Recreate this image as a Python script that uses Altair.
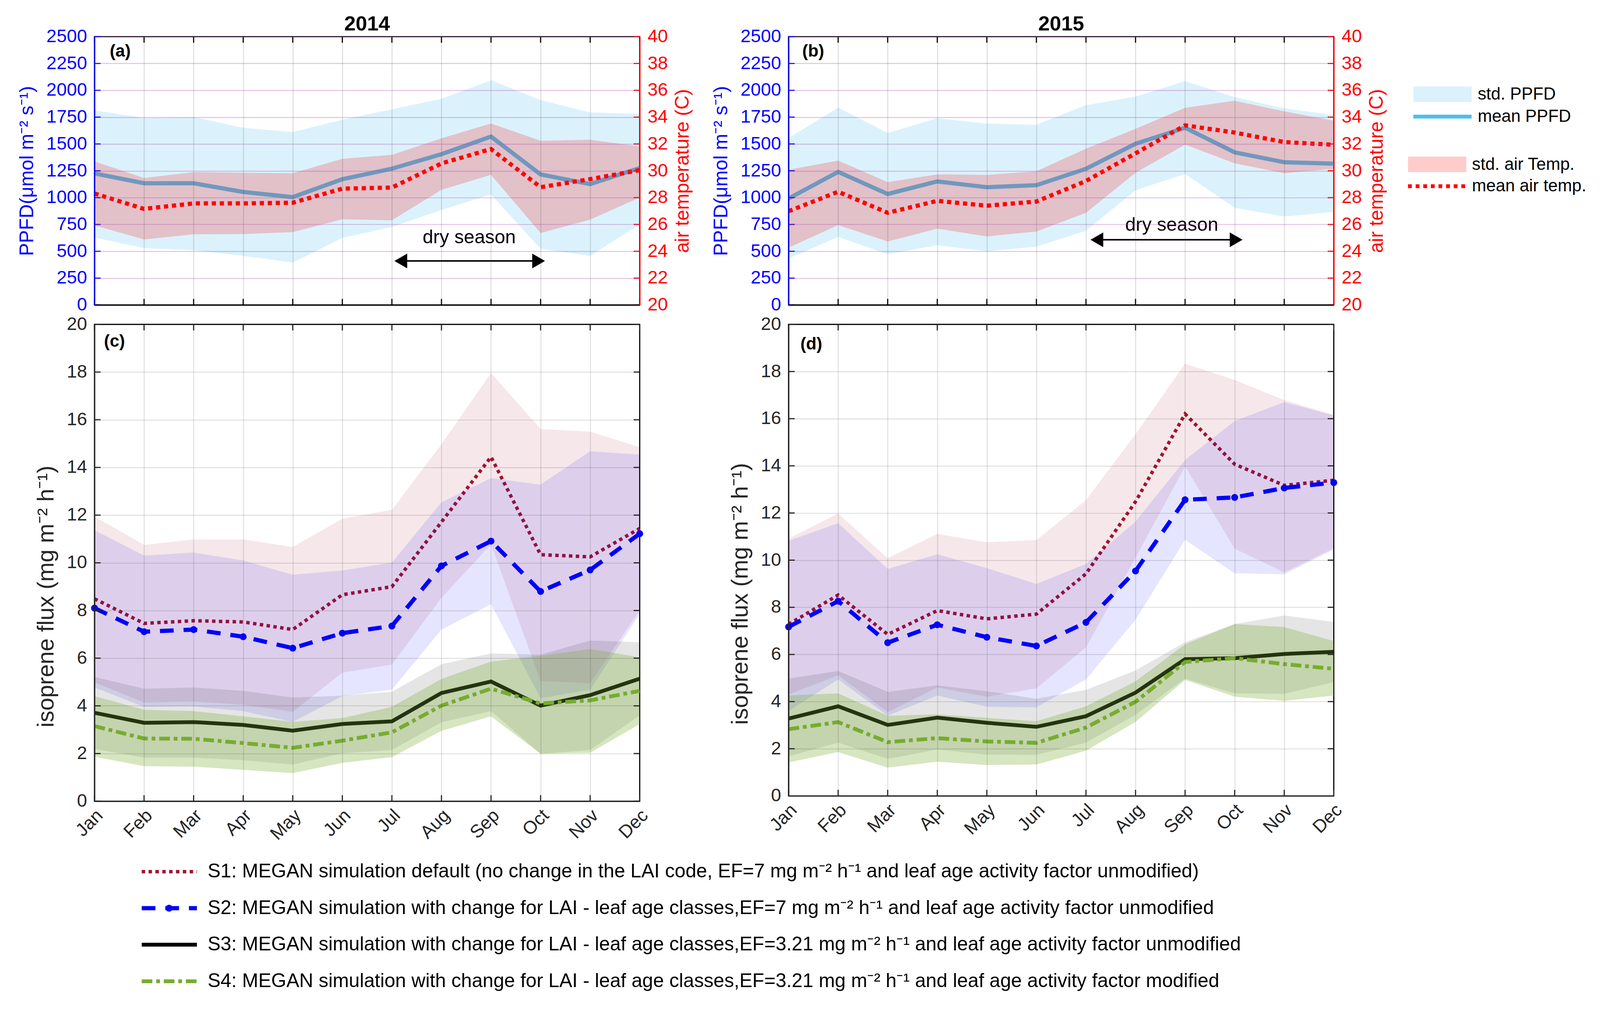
import altair as alt
import pandas as pd

months = ["Jan", "Feb", "Mar", "Apr", "May", "Jun", "Jul", "Aug", "Sep", "Oct", "Nov", "Dec"]
month_idx = list(range(1, 13))

# tick values
ppfd_ticks = list(range(0, 2501, 250))
temp_ticks = list(range(20, 41, 2))
flux_ticks = list(range(0, 21, 2))

# ---- (a) 2014 PPFD and air temperature ----
ppfd_mean_2014 = [1226, 1134, 1134, 1053, 1005, 1172, 1270, 1405, 1569, 1216, 1126, 1276]
ppfd_hi_2014 = [1813, 1742, 1751, 1651, 1611, 1726, 1823, 1921, 2094, 1909, 1794, 1780]
ppfd_lo_2014 = [629, 529, 510, 458, 395, 625, 727, 885, 1030, 523, 458, 750]
temp_mean_2014 = [28.31, 27.16, 27.57, 27.57, 27.62, 28.67, 28.75, 30.55, 31.62, 28.78, 29.38, 30.05]
temp_hi_2014 = [30.70, 29.47, 29.90, 29.85, 29.82, 30.89, 31.19, 32.42, 33.53, 32.24, 32.32, 31.82]
temp_lo_2014 = [25.93, 24.88, 25.27, 25.28, 25.43, 26.39, 26.31, 28.58, 29.70, 25.36, 26.36, 28.01]

# ---- (b) 2015 PPFD and air temperature ----
ppfd_mean_2015 = [992, 1240, 1034, 1151, 1097, 1116, 1269, 1502, 1651, 1422, 1330, 1317]
ppfd_hi_2015 = [1555, 1838, 1603, 1740, 1689, 1679, 1861, 1941, 2086, 1937, 1832, 1769]
ppfd_lo_2015 = [433, 634, 473, 557, 500, 544, 691, 1069, 1221, 906, 824, 868]
temp_mean_2015 = [26.99, 28.44, 26.87, 27.76, 27.40, 27.71, 29.24, 31.30, 33.39, 32.85, 32.14, 31.94]
temp_hi_2015 = [30.08, 30.76, 29.16, 29.74, 29.69, 29.97, 31.65, 33.13, 34.70, 35.22, 34.43, 33.74]
temp_lo_2015 = [24.27, 25.95, 24.73, 25.68, 25.11, 25.47, 26.87, 29.85, 31.95, 30.56, 29.82, 30.15]

# ---- (c) 2014 isoprene flux ----
s1_2014 = [8.49, 7.46, 7.57, 7.52, 7.20, 8.66, 9.00, 11.71, 14.44, 10.34, 10.25, 11.44]
s2_2014 = [8.10, 7.11, 7.20, 6.90, 6.42, 7.05, 7.35, 9.87, 10.91, 8.80, 9.70, 11.22]
s3_2014 = [3.71, 3.29, 3.32, 3.20, 2.96, 3.24, 3.35, 4.54, 5.02, 4.01, 4.45, 5.14]
s4_2014 = [3.15, 2.63, 2.62, 2.44, 2.24, 2.54, 2.89, 4.01, 4.72, 4.10, 4.23, 4.63]
s1_hi_2014 = [11.94, 10.75, 10.98, 10.98, 10.66, 11.85, 12.22, 14.97, 17.96, 15.61, 15.50, 14.85]
s1_lo_2014 = [4.99, 4.14, 4.18, 4.05, 3.75, 5.39, 5.73, 8.53, 10.77, 5.04, 4.95, 8.00]
s2_hi_2014 = [11.37, 10.30, 10.43, 10.10, 9.50, 9.68, 10.01, 12.54, 13.55, 13.28, 14.68, 14.54]
s2_lo_2014 = [4.77, 3.96, 3.98, 3.78, 3.33, 4.41, 4.68, 7.20, 8.26, 4.32, 4.68, 7.85]
s3_hi_2014 = [5.21, 4.72, 4.77, 4.63, 4.35, 4.43, 4.59, 5.75, 6.20, 6.15, 6.74, 6.67]
s3_lo_2014 = [2.19, 1.83, 1.83, 1.72, 1.54, 2.01, 2.15, 3.31, 3.78, 1.99, 2.15, 3.60]
s4_hi_2014 = [4.41, 3.83, 3.78, 3.56, 3.33, 3.49, 3.96, 5.13, 5.86, 6.10, 6.38, 6.04]
s4_lo_2014 = [1.87, 1.47, 1.45, 1.32, 1.18, 1.61, 1.85, 2.95, 3.56, 1.99, 2.03, 3.24]

# ---- (d) 2015 isoprene flux ----
s1_2015 = [7.28, 8.52, 6.85, 7.86, 7.51, 7.71, 9.42, 12.48, 16.20, 14.07, 13.17, 13.39]
s2_2015 = [7.17, 8.26, 6.50, 7.26, 6.73, 6.36, 7.36, 9.54, 12.56, 12.66, 13.06, 13.29]
s3_2015 = [3.28, 3.80, 3.01, 3.32, 3.10, 2.93, 3.38, 4.38, 5.80, 5.84, 6.02, 6.11]
s4_2015 = [2.83, 3.13, 2.28, 2.45, 2.31, 2.25, 2.90, 3.99, 5.68, 5.84, 5.59, 5.39]
s1_hi_2015 = [10.91, 11.98, 10.08, 11.11, 10.76, 10.85, 12.54, 15.34, 18.33, 17.64, 16.79, 16.16]
s1_lo_2015 = [4.30, 5.12, 3.55, 4.60, 4.21, 4.56, 6.30, 10.10, 13.98, 10.49, 9.48, 10.50]
s2_hi_2015 = [10.82, 11.57, 9.63, 10.25, 9.66, 8.99, 9.84, 11.64, 14.25, 15.90, 16.70, 16.14]
s2_lo_2015 = [3.60, 4.94, 3.40, 4.26, 3.78, 3.76, 4.94, 7.47, 10.86, 9.44, 9.40, 10.45]
s3_hi_2015 = [4.98, 5.30, 4.41, 4.69, 4.44, 4.12, 4.50, 5.32, 6.52, 7.29, 7.65, 7.38]
s3_lo_2015 = [1.68, 2.26, 1.57, 1.97, 1.75, 1.74, 2.26, 3.44, 4.98, 4.35, 4.33, 4.83]
s4_hi_2015 = [4.26, 4.35, 3.40, 3.46, 3.31, 3.17, 3.80, 4.86, 6.43, 7.29, 7.16, 6.57]
s4_lo_2015 = [1.42, 1.86, 1.20, 1.45, 1.31, 1.33, 1.92, 3.14, 4.92, 4.21, 4.03, 4.26]

# ---- text ----
panel_titles = ["2014", "2015"]
panel_tags = ["(a)", "(b)", "(c)", "(d)"]
top_legend_labels = ["std. PPFD", "mean PPFD", "std. air Temp.", "mean air temp."]
series_labels = [
    "S1: MEGAN simulation default (no change in the LAI code, EF=7 mg m\u207b\u00b2 h\u207b\u00b9 and leaf age activity factor unmodified)",
    "S2: MEGAN simulation with change for LAI - leaf age classes,EF=7 mg m\u207b\u00b2 h\u207b\u00b9 and leaf age activity factor unmodified",
    "S3: MEGAN simulation with change for LAI - leaf age classes,EF=3.21 mg m\u207b\u00b2 h\u207b\u00b9 and  leaf age activity factor unmodified",
    "S4: MEGAN simulation with change for LAI - leaf age classes,EF=3.21 mg m\u207b\u00b2 h\u207b\u00b9 and  leaf age activity factor modified",
]
dry_label = "dry season"
# dry-season arrow (month position start/end, air-temperature level), text position
dry_2014 = {"x1": 7.05, "x2": 10.09, "t": 23.28, "tx": 8.56, "tt": 25.02}
dry_2015 = {"x1": 7.09, "x2": 10.16, "t": 24.86, "tx": 8.73, "tt": 25.95}

FONT = "Liberation Sans"
W = 1432
H_TOP = 705
H_C = 1253
H_D = 1239
TICK = 16

C_PPFD = "#4DBEEE"
C_TEMP = "#FF0000"
C_S1 = "#A2142F"
C_S2 = "#0000FF"
C_S3 = "#000000"
C_S4 = "#77AC30"
C_AX = "#262626"
DASH_S1 = [9, 9]
DASH_S2 = [36, 26]
DASH_S4 = [28, 10, 10, 10]
DASH_T = [11, 10]

month_expr = "[" + ",".join("'%s'" % m for m in months) + "][datum.value - 1]"


def xscale():
    return alt.Scale(domain=[1, 12], nice=False, zero=False)


def tag_layer(tag, dx, dy):
    return alt.Chart(pd.DataFrame({"t": [tag]})).mark_text(
        fontSize=45, fontWeight="bold", align="left", baseline="middle", color="black"
    ).encode(text="t:N", x=alt.value(dx), y=alt.value(dy))


def xticks(h, color):
    d = pd.DataFrame({"m": month_idx})
    bot = alt.Chart(d).mark_rule(color=color, strokeWidth=3).encode(
        x="m:Q", y=alt.value(h), y2=alt.value(h - TICK))
    top = alt.Chart(d).mark_rule(color=color, strokeWidth=3).encode(
        x="m:Q", y=alt.value(0), y2=alt.value(TICK))
    return [bot, top]


def yticks(vals, color, side):
    d = pd.DataFrame({"v": vals})
    x0, x1 = (0, TICK) if side == "left" else (W - TICK, W)
    return alt.Chart(d).mark_rule(color=color, strokeWidth=3).encode(
        y="v:Q", x=alt.value(x0), x2=alt.value(x1))


def top_panel(title, pm, phi, plo, tm, thi, tlo, dry, tag, tag_dx, with_legend):
    df = pd.DataFrame({"m": month_idx, "pm": pm, "phi": phi, "plo": plo,
                       "tm": tm, "thi": thi, "tlo": tlo})
    base = alt.Chart(df)
    x_axis = alt.Axis(values=month_idx, labels=False, ticks=False, domain=True,
                      domainColor="black", domainWidth=3, grid=True, gridColor=C_AX,
                      gridOpacity=0.16, gridWidth=2.5, zindex=1, title=None)
    y_ppfd = alt.Y("plo:Q", scale=alt.Scale(domain=[0, 2500], nice=False, zero=False),
                   axis=alt.Axis(values=ppfd_ticks, format="d", labelColor="#0000FF",
                                 labelFontSize=48, labelPadding=20, ticks=False,
                                 domainColor="#0000FF", domainWidth=3, grid=True,
                                 gridColor="#B04CB0", gridOpacity=0.35, gridWidth=2.5, zindex=1,
                                 title="PPFD(\u03bcmol m\u207b\u00b2 s\u207b\u00b9)", titleColor="#0000FF",
                                 titleFontSize=51, titleFontWeight="normal", titleX=-176,
                                 titleY=H_TOP / 2, titleAngle=270, titleAlign="center",
                                 titleBaseline="middle"))
    band = base.mark_area(color=C_PPFD, opacity=0.2).encode(
        x=alt.X("m:Q", scale=xscale(), axis=x_axis), y=y_ppfd, y2="phi:Q")
    line = base.mark_line(color=C_PPFD, strokeWidth=11).encode(x="m:Q", y="pm:Q")
    ppfd_layer = alt.layer(band, line, yticks(ppfd_ticks, "#0000FF", "left"))

    y_temp = alt.Y("tlo:Q", scale=alt.Scale(domain=[20, 40], nice=False, zero=False),
                   axis=alt.Axis(orient="right", values=temp_ticks, format="d", labelColor="#FF0000",
                                 labelFontSize=48, labelPadding=20, ticks=False,
                                 domainColor="#FF0000", domainWidth=3, grid=False, zindex=1,
                                 title="air temperature (C)", titleColor="#FF0000",
                                 titleFontSize=51, titleFontWeight="normal", titleX=113,
                                 titleY=H_TOP / 2, titleAngle=270, titleAlign="center",
                                 titleBaseline="middle"))
    tband = base.mark_area(color=C_TEMP, opacity=0.2).encode(x="m:Q", y=y_temp, y2="thi:Q")
    tline = base.mark_line(color=C_TEMP, strokeWidth=11, strokeDash=DASH_T).encode(x="m:Q", y="tm:Q")

    off = 0.13
    arrow = alt.Chart(pd.DataFrame({"x1": [dry["x1"] + off * 0.7], "x2": [dry["x2"] - off * 0.7],
                                    "t": [dry["t"]]})).mark_rule(color="black", strokeWidth=4).encode(
        x="x1:Q", x2="x2:Q", y="t:Q")
    heads = alt.Chart(pd.DataFrame({"x": [dry["x1"] + off, dry["x2"] - off], "t": [dry["t"], dry["t"]],
                                    "d": ["l", "r"]})).mark_point(filled=True, color="black", opacity=1,
                                                                  size=1500).encode(
        x="x:Q", y="t:Q",
        shape=alt.Shape("d:N", scale=alt.Scale(domain=["l", "r"], range=["triangle-left", "triangle-right"]),
                        legend=None))
    dtext = alt.Chart(pd.DataFrame({"x": [dry["tx"]], "t": [dry["tt"]], "s": [dry_label]})).mark_text(
        fontSize=50, color="black", align="center", baseline="middle").encode(x="x:Q", y="t:Q", text="s:N")
    temp_layer = alt.layer(tband, tline, arrow, heads, dtext, yticks(temp_ticks, "#FF0000", "right"))

    layers = [ppfd_layer, temp_layer] + xticks(H_TOP, "black") + [tag_layer(tag, tag_dx, 38)]
    if with_legend:
        one = pd.DataFrame({"k": [0]})
        layers += [
            alt.Chart(one).mark_rect(color=C_PPFD, opacity=0.2).encode(
                x=alt.value(W + 209), x2=alt.value(W + 362), y=alt.value(131), y2=alt.value(172)),
            alt.Chart(one).mark_rule(color=C_PPFD, strokeWidth=10).encode(
                x=alt.value(W + 209), x2=alt.value(W + 362), y=alt.value(210)),
            alt.Chart(one).mark_rect(color=C_TEMP, opacity=0.2).encode(
                x=alt.value(W + 195), x2=alt.value(W + 348), y=alt.value(315), y2=alt.value(356)),
            alt.Chart(one).mark_rule(color=C_TEMP, strokeWidth=10, strokeDash=[10, 10]).encode(
                x=alt.value(W + 195), x2=alt.value(W + 345), y=alt.value(393)),
        ]
        txt_pos = [(W + 378, 151), (W + 378, 210), (W + 363, 336), (W + 363, 392)]
        for lab, (px, py) in zip(top_legend_labels, txt_pos):
            layers.append(alt.Chart(pd.DataFrame({"s": [lab]})).mark_text(
                fontSize=45, align="left", baseline="middle", color="black").encode(
                text="s:N", x=alt.value(px), y=alt.value(py)))

    return alt.layer(*layers).resolve_scale(y="independent").properties(
        width=W, height=H_TOP,
        title=alt.TitleParams(title, fontSize=54, fontWeight="bold", anchor="middle", offset=-19,
                              frame="group", color="black"))


def bottom_panel(h, series, tag, tag_dx, tag_dy, with_legend):
    (s1, s1hi, s1lo, s2, s2hi, s2lo, s3, s3hi, s3lo, s4, s4hi, s4lo) = series
    df = pd.DataFrame({"m": month_idx, "s1": s1, "s1hi": s1hi, "s1lo": s1lo,
                       "s2": s2, "s2hi": s2hi, "s2lo": s2lo, "s3": s3, "s3hi": s3hi, "s3lo": s3lo,
                       "s4": s4, "s4hi": s4hi, "s4lo": s4lo})
    base = alt.Chart(df)
    x_axis = alt.Axis(values=month_idx, labelExpr=month_expr, labelAngle=315, labelAlign="right",
                      labelBaseline="middle", labelFontSize=48, labelColor=C_AX, labelPadding=30,
                      labelOffset=14, ticks=False, domain=True, domainColor=C_AX, domainWidth=3,
                      grid=True, gridColor=C_AX, gridOpacity=0.15, gridWidth=2.5, zindex=1,
                      title=None)
    y_axis = alt.Axis(values=flux_ticks, format="d", labelFontSize=48, labelColor=C_AX,
                      labelPadding=20, ticks=False, domain=True, domainColor=C_AX, domainWidth=3,
                      grid=True, gridColor=C_AX, gridOpacity=0.15, gridWidth=2.5, zindex=1,
                      title="isoprene flux (mg m\u207b\u00b2 h\u207b\u00b9)", titleColor=C_AX,
                      titleFontSize=61, titleFontWeight="normal", titleX=-126, titleY=h / 2 + 88,
                      titleAngle=270, titleAlign="center", titleBaseline="middle")
    b1 = base.mark_area(color=C_S1, opacity=0.1).encode(
        x=alt.X("m:Q", scale=xscale(), axis=x_axis),
        y=alt.Y("s1lo:Q", scale=alt.Scale(domain=[0, 20], nice=False, zero=False), axis=y_axis),
        y2="s1hi:Q")
    l1 = base.mark_line(color=C_S1, strokeWidth=9, strokeDash=DASH_S1).encode(x="m:Q", y="s1:Q")
    b2 = base.mark_area(color=C_S2, opacity=0.1).encode(x="m:Q", y="s2lo:Q", y2="s2hi:Q")
    l2 = base.mark_line(color=C_S2, strokeWidth=11, strokeDash=DASH_S2,
                        point=alt.OverlayMarkDef(filled=True, color=C_S2, size=330, opacity=1)).encode(
        x="m:Q", y="s2:Q")
    b3 = base.mark_area(color=C_S3, opacity=0.1).encode(x="m:Q", y="s3lo:Q", y2="s3hi:Q")
    l3 = base.mark_line(color=C_S3, strokeWidth=10).encode(x="m:Q", y="s3:Q")
    b4 = base.mark_area(color=C_S4, opacity=0.3).encode(x="m:Q", y="s4lo:Q", y2="s4hi:Q")
    l4 = base.mark_line(color=C_S4, strokeWidth=10, strokeDash=DASH_S4).encode(x="m:Q", y="s4:Q")
    layers = [b1, l1, b2, l2, b3, l3, b4, l4] + xticks(h, C_AX) + [
        yticks(flux_ticks, C_AX, "left"), yticks(flux_ticks, C_AX, "right"), tag_layer(tag, tag_dx, tag_dy)]
    if with_legend:
        one = pd.DataFrame({"k": [0]})
        styles = [(C_S1, 9, DASH_S1), (C_S2, 11, DASH_S2), (C_S3, 10, None), (C_S4, 10, DASH_S4)]
        y0 = 1438
        for i, (lab, (col, sw, dash)) in enumerate(zip(series_labels, styles)):
            yy = y0 + 96 * i
            kw = dict(color=col, strokeWidth=sw)
            if dash:
                kw["strokeDash"] = dash
            layers.append(alt.Chart(one).mark_rule(**kw).encode(
                x=alt.value(124), x2=alt.value(269), y=alt.value(yy)))
            if i == 1:
                layers.append(alt.Chart(one).mark_point(filled=True, color=C_S2, size=330, opacity=1).encode(
                    x=alt.value(196), y=alt.value(yy)))
            layers.append(alt.Chart(pd.DataFrame({"s": [lab]})).mark_text(
                fontSize=51, align="left", baseline="middle", color="black").encode(
                text="s:N", x=alt.value(297), y=alt.value(yy)))
    return alt.layer(*layers).properties(width=W, height=h)


pa = top_panel(panel_titles[0], ppfd_mean_2014, ppfd_hi_2014, ppfd_lo_2014,
               temp_mean_2014, temp_hi_2014, temp_lo_2014, dry_2014, panel_tags[0], 40, False)
pb = top_panel(panel_titles[1], ppfd_mean_2015, ppfd_hi_2015, ppfd_lo_2015,
               temp_mean_2015, temp_hi_2015, temp_lo_2015, dry_2015, panel_tags[1], 36, True)
pc = bottom_panel(H_C, (s1_2014, s1_hi_2014, s1_lo_2014, s2_2014, s2_hi_2014, s2_lo_2014,
                        s3_2014, s3_hi_2014, s3_lo_2014, s4_2014, s4_hi_2014, s4_lo_2014),
                  panel_tags[2], 25, 45, True)
pd_ = bottom_panel(H_D, (s1_2015, s1_hi_2015, s1_lo_2015, s2_2015, s2_hi_2015, s2_lo_2015,
                         s3_2015, s3_hi_2015, s3_lo_2015, s4_2015, s4_hi_2015, s4_lo_2015),
                   panel_tags[3], 31, 52, False)

chart = alt.concat(pa, pb, pc, pd_, columns=2, spacing={"row": 51, "column": 391}, bounds="flush").properties(
    autosize=alt.AutoSizeParams(type="none"),
    padding={"left": 240, "top": 54, "right": 3946, "bottom": 2571},
    background="white",
).configure(font=FONT).configure_view(stroke="black", strokeWidth=3)

chart.save("out.html", embed_options={"renderer": "svg", "actions": False})
